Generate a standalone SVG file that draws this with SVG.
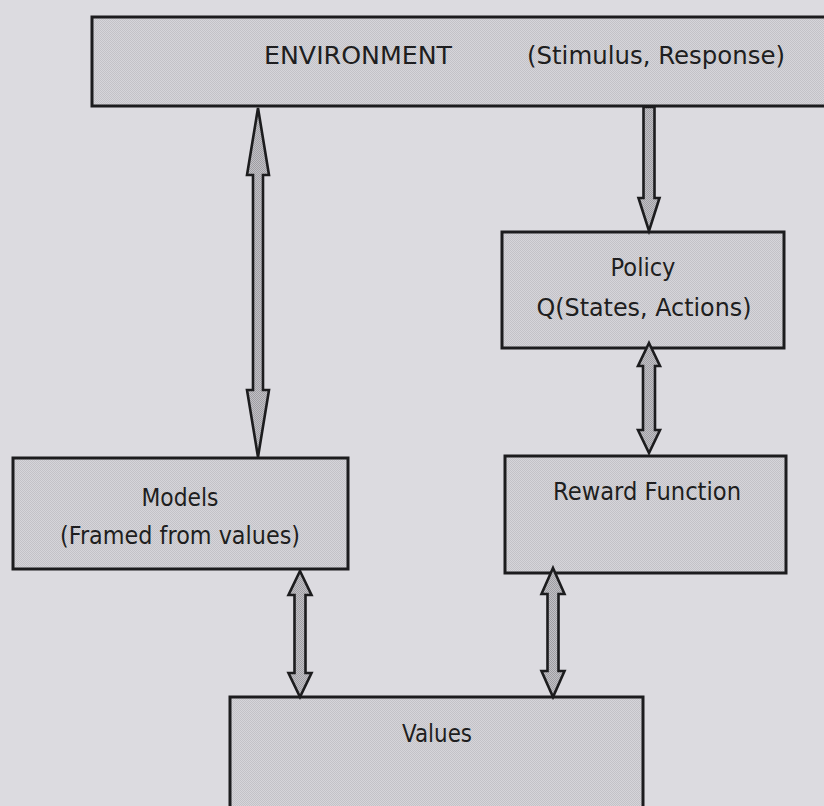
<svg xmlns="http://www.w3.org/2000/svg" width="824" height="806" viewBox="0 0 824 806">
  <defs>
    <!-- stippled fills -->
    <pattern id="boxDots" width="2" height="2" patternUnits="userSpaceOnUse">
      <rect width="2" height="2" fill="#d6d5da"/>
      <rect width="1" height="1" fill="#c3c2c7"/>
      <rect x="1" y="1" width="1" height="1" fill="#c3c2c7"/>
    </pattern>
    <pattern id="arrowDots" width="2" height="2" patternUnits="userSpaceOnUse">
      <rect width="2" height="2" fill="#c2c1c6"/>
      <rect width="1" height="1" fill="#9e9da2"/>
      <rect x="1" y="1" width="1" height="1" fill="#9e9da2"/>
    </pattern>
    <style>
      .box { fill: url(#boxDots); stroke: #1c1c1e; stroke-width: 3; }
      .arrow { fill: url(#arrowDots); stroke: #1c1c1e; stroke-width: 2.6; stroke-linejoin: miter; }
      .label { font-family: "Comic Sans MS", "DejaVu Sans", "Noto Sans", sans-serif; font-size: 24px; fill: #1e1e20; text-anchor: middle; }
    </style>
  </defs>

  <rect width="824" height="806" fill="#dcdbe0"/>

  <g id="environment">
    <rect class="box" x="92" y="17" width="740" height="89"/>
    <text class="label" x="358" y="64" textLength="188" lengthAdjust="spacingAndGlyphs">ENVIRONMENT</text>
    <text class="label" x="656" y="64" textLength="258" lengthAdjust="spacingAndGlyphs">(Stimulus, Response)</text>
  </g>

  <g id="policy">
    <rect class="box" x="502" y="232" width="282" height="116"/>
    <text class="label" x="643" y="276" textLength="65" lengthAdjust="spacingAndGlyphs">Policy</text>
    <text class="label" x="644" y="316" textLength="215" lengthAdjust="spacingAndGlyphs">Q(States, Actions)</text>
  </g>

  <g id="reward-function">
    <rect class="box" x="505" y="456" width="281" height="117"/>
    <text class="label" x="647" y="500" textLength="188" lengthAdjust="spacingAndGlyphs">Reward Function</text>
  </g>

  <g id="models">
    <rect class="box" x="13" y="458" width="335" height="111"/>
    <text class="label" x="180" y="506" textLength="77" lengthAdjust="spacingAndGlyphs">Models</text>
    <text class="label" x="180" y="544" textLength="240" lengthAdjust="spacingAndGlyphs">(Framed from values)</text>
  </g>

  <g id="values">
    <rect class="box" x="230" y="697" width="413" height="130"/>
    <text class="label" x="437" y="742" textLength="70" lengthAdjust="spacingAndGlyphs">Values</text>
  </g>

  <g id="connectors">
    <!-- environment <-> models -->
    <polygon class="arrow" points="258,108 269,175 263,175 263,390 269,390 258,457 247,390 253,390 253,175 247,175"/>
    <!-- environment -> policy -->
    <polygon class="arrow" points="643.5,107 654.5,107 654.5,198 659.5,198 649,231 638.5,198 643.5,198"/>
    <!-- policy <-> reward function -->
    <polygon class="arrow" points="649,343 660,366 655,366 655,430 660,430 649,453 638,430 643,430 643,366 638,366"/>
    <!-- models <-> values -->
    <polygon class="arrow" points="300,571 311.5,595 305.5,595 305.5,673 311.5,673 300,697 288.5,673 294.5,673 294.5,595 288.5,595"/>
    <!-- reward function <-> values -->
    <polygon class="arrow" points="553,568 564.5,594 558.5,594 558.5,671 564.5,671 553,697 541.5,671 547.5,671 547.5,594 541.5,594"/>
  </g>
</svg>
